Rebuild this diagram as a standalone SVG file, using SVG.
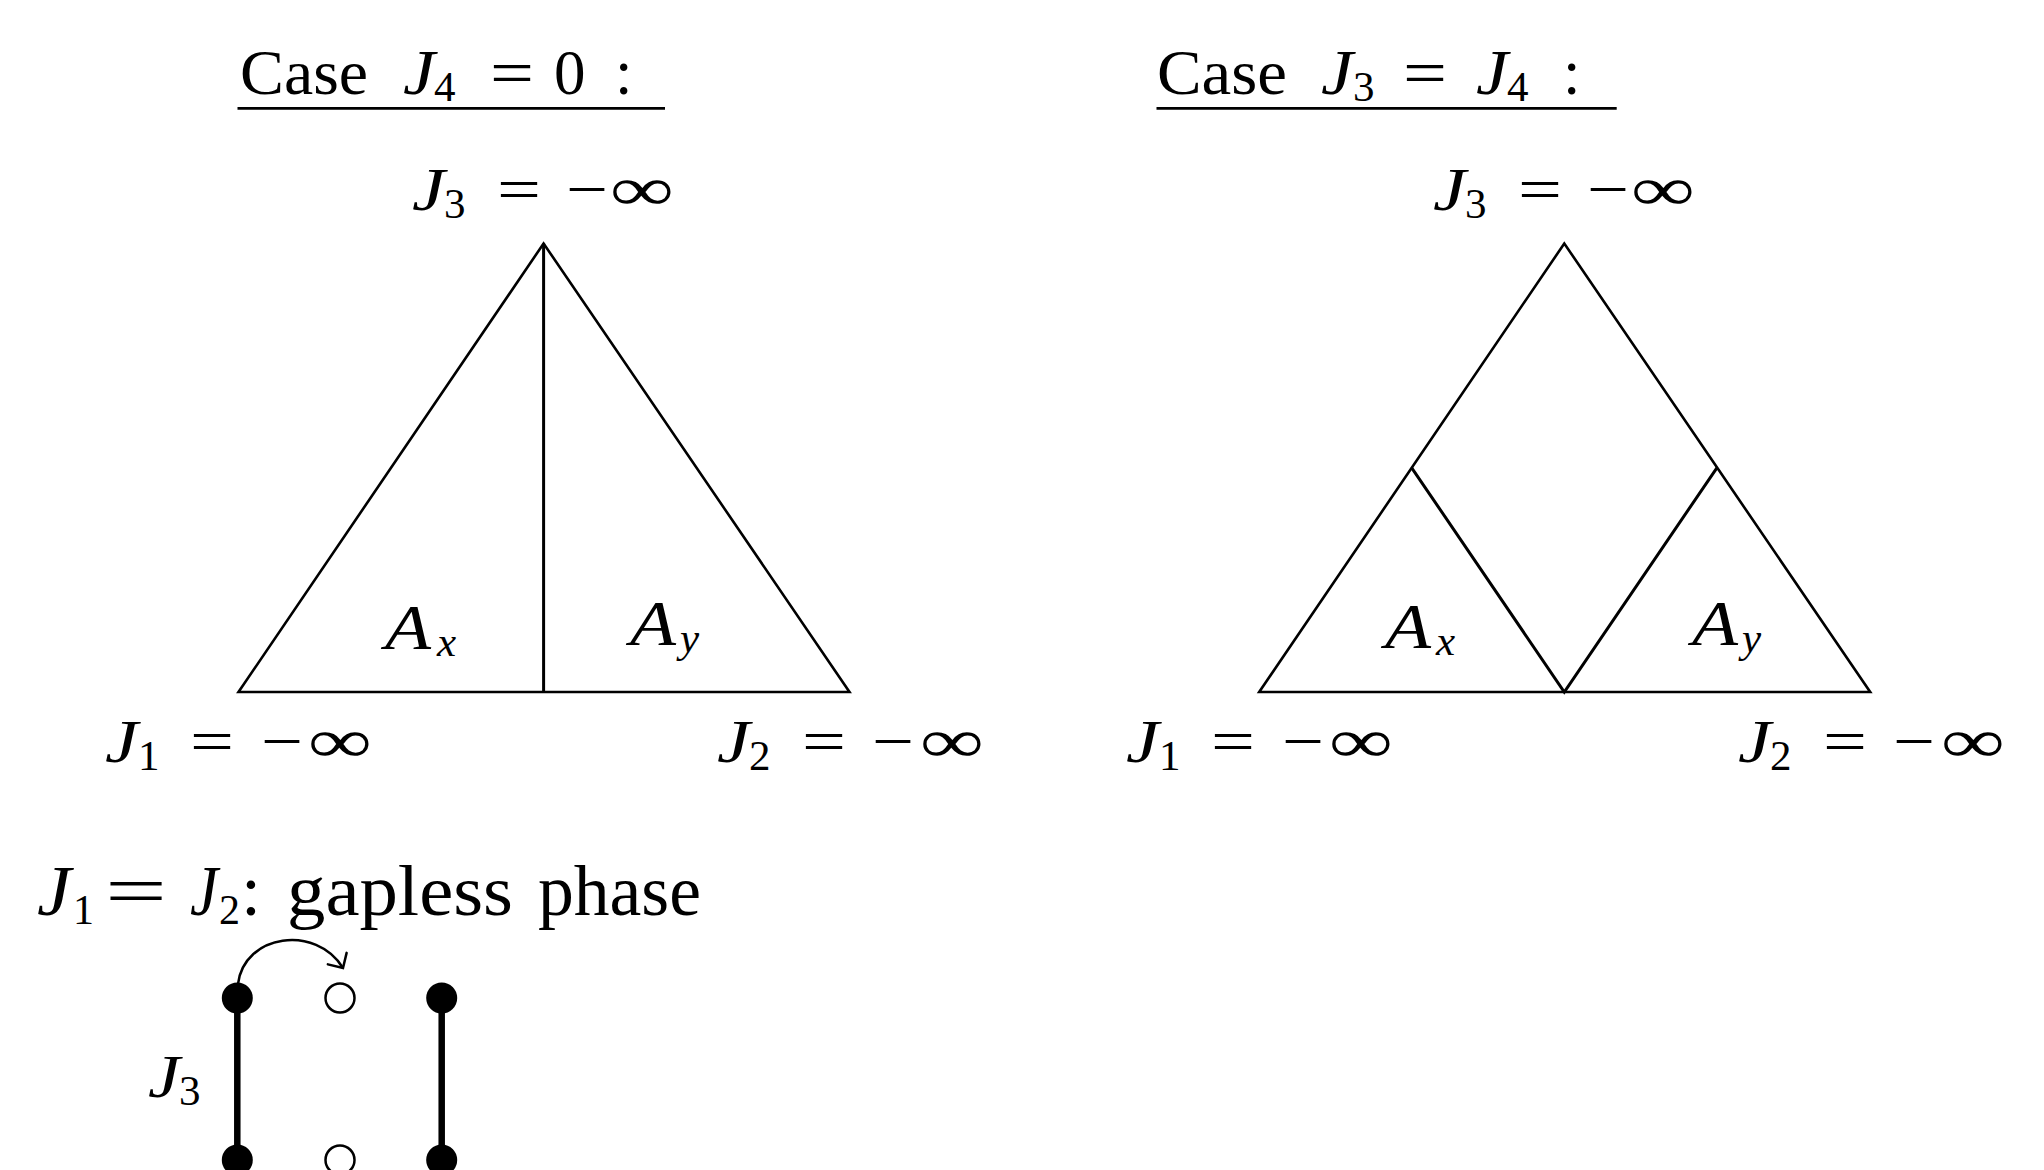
<svg xmlns="http://www.w3.org/2000/svg" width="2044" height="1170" viewBox="0 0 2044 1170">
<style>
text{font-family:"Liberation Serif","Times New Roman",serif;fill:#000}
.L{font-size:62px}
.A{font-size:64px}
.T{font-size:63px}
.G{font-size:72px}
.it{font-style:italic}
.s{font-size:43px}
.sg{font-size:42px}
.edge{fill:none;stroke:#000;stroke-width:2.6;stroke-linejoin:miter}
.ul{stroke:#000;stroke-width:2.8}
.bond{stroke:#000;stroke-width:6.5}
.full{fill:#000}
.hole{fill:#fff;stroke:#000;stroke-width:2.5}
</style>
<defs>
<marker id="to" markerUnits="userSpaceOnUse" viewBox="-14 -14 16 28" refX="0" refY="0" markerWidth="16" markerHeight="28" orient="auto" overflow="visible">
<path d="M -11,-11 Q -3,-3 0,0 Q -3,3 -11,11" fill="none" stroke="#000" stroke-width="2.5" stroke-linecap="round"/>
</marker>
</defs>
<rect width="2044" height="1170" fill="#fff"/>

<g id="title-left">
<text class="T" y="94"><tspan x="240" textLength="128" lengthAdjust="spacingAndGlyphs">Case</tspan><tspan x="403" class="it" textLength="32" lengthAdjust="spacingAndGlyphs">J</tspan><tspan x="434" y="101" class="s">4</tspan><tspan x="490" y="94" textLength="44" lengthAdjust="spacingAndGlyphs">=</tspan><tspan x="554">0</tspan><tspan x="615">:</tspan></text>
<line class="ul" x1="237.5" y1="108.3" x2="665" y2="108.3"/>
</g>
<g id="title-right">
<text class="T" y="94"><tspan x="1157" textLength="130" lengthAdjust="spacingAndGlyphs">Case</tspan><tspan x="1321" class="it" textLength="32" lengthAdjust="spacingAndGlyphs">J</tspan><tspan x="1353" y="101" class="s">3</tspan><tspan x="1403" y="94" textLength="44" lengthAdjust="spacingAndGlyphs">=</tspan><tspan x="1476" class="it" textLength="32" lengthAdjust="spacingAndGlyphs">J</tspan><tspan x="1507" y="101" class="s">4</tspan><tspan x="1563" y="94">:</tspan></text>
<line class="ul" x1="1156.5" y1="108.3" x2="1616.7" y2="108.3"/>
</g>

<g id="triangle-left">
<polygon class="edge" points="543.6,243.5 238.5,692 849.5,692"/>
<line class="edge" x1="543.6" y1="243.5" x2="543.6" y2="692" style="stroke-width:3"/>
<text class="A" y="649"><tspan x="385" class="it" textLength="46" lengthAdjust="spacingAndGlyphs">A</tspan><tspan x="437" y="656" class="s it">x</tspan></text>
<text class="A" y="645"><tspan x="630" class="it" textLength="46" lengthAdjust="spacingAndGlyphs">A</tspan><tspan x="680" y="652" class="s it">y</tspan></text>
</g>
<g id="labels-left">
<text class="L" y="210"><tspan x="412" class="it" textLength="33" lengthAdjust="spacingAndGlyphs">J</tspan><tspan x="444" y="218" class="s">3</tspan><tspan x="497" y="210" textLength="44" lengthAdjust="spacingAndGlyphs">=</tspan><tspan x="566" textLength="42" lengthAdjust="spacingAndGlyphs">−</tspan><tspan x="610" textLength="64" lengthAdjust="spacingAndGlyphs">∞</tspan></text>
<text class="L" y="762"><tspan x="105" class="it" textLength="33" lengthAdjust="spacingAndGlyphs">J</tspan><tspan x="138" y="770" class="s">1</tspan><tspan x="190" y="762" textLength="44" lengthAdjust="spacingAndGlyphs">=</tspan><tspan x="261" textLength="42" lengthAdjust="spacingAndGlyphs">−</tspan><tspan x="308" textLength="64" lengthAdjust="spacingAndGlyphs">∞</tspan></text>
<text class="L" y="762"><tspan x="717" class="it" textLength="33" lengthAdjust="spacingAndGlyphs">J</tspan><tspan x="749" y="770" class="s">2</tspan><tspan x="802" y="762" textLength="44" lengthAdjust="spacingAndGlyphs">=</tspan><tspan x="872" textLength="42" lengthAdjust="spacingAndGlyphs">−</tspan><tspan x="920" textLength="64" lengthAdjust="spacingAndGlyphs">∞</tspan></text>
</g>

<g id="triangle-right">
<polygon class="edge" points="1564.3,243.5 1259.2,692 1870.2,692"/>
<polyline class="edge" points="1411.7,467.8 1564.3,692 1716.9,467.8" style="stroke-width:3"/>
<text class="A" y="648"><tspan x="1385" class="it" textLength="46" lengthAdjust="spacingAndGlyphs">A</tspan><tspan x="1436" y="655" class="s it">x</tspan></text>
<text class="A" y="645"><tspan x="1692" class="it" textLength="46" lengthAdjust="spacingAndGlyphs">A</tspan><tspan x="1742" y="652" class="s it">y</tspan></text>
</g>
<g id="labels-right">
<text class="L" y="210"><tspan x="1433" class="it" textLength="33" lengthAdjust="spacingAndGlyphs">J</tspan><tspan x="1465" y="218" class="s">3</tspan><tspan x="1518" y="210" textLength="44" lengthAdjust="spacingAndGlyphs">=</tspan><tspan x="1587" textLength="42" lengthAdjust="spacingAndGlyphs">−</tspan><tspan x="1631" textLength="64" lengthAdjust="spacingAndGlyphs">∞</tspan></text>
<text class="L" y="762"><tspan x="1126" class="it" textLength="33" lengthAdjust="spacingAndGlyphs">J</tspan><tspan x="1159" y="770" class="s">1</tspan><tspan x="1211" y="762" textLength="44" lengthAdjust="spacingAndGlyphs">=</tspan><tspan x="1282" textLength="42" lengthAdjust="spacingAndGlyphs">−</tspan><tspan x="1329" textLength="64" lengthAdjust="spacingAndGlyphs">∞</tspan></text>
<text class="L" y="762"><tspan x="1738" class="it" textLength="33" lengthAdjust="spacingAndGlyphs">J</tspan><tspan x="1770" y="770" class="s">2</tspan><tspan x="1823" y="762" textLength="44" lengthAdjust="spacingAndGlyphs">=</tspan><tspan x="1893" textLength="42" lengthAdjust="spacingAndGlyphs">−</tspan><tspan x="1941" textLength="64" lengthAdjust="spacingAndGlyphs">∞</tspan></text>
</g>

<g id="gapless-heading">
<text class="G" y="915"><tspan x="37" class="it" textLength="34" lengthAdjust="spacingAndGlyphs">J</tspan><tspan x="73" y="924" class="sg">1</tspan><tspan x="105" y="915" textLength="62" lengthAdjust="spacingAndGlyphs">=</tspan><tspan x="190" class="it" textLength="28" lengthAdjust="spacingAndGlyphs">J</tspan><tspan x="219" y="924" class="sg">2</tspan><tspan x="241" y="915">:</tspan><tspan x="287" textLength="226" lengthAdjust="spacingAndGlyphs">gapless</tspan><tspan x="538" textLength="163" lengthAdjust="spacingAndGlyphs">phase</tspan></text>
</g>

<g id="chain">
<line class="bond" x1="237.3" y1="998" x2="237.3" y2="1160"/>
<line class="bond" x1="441.7" y1="998" x2="441.7" y2="1160"/>
<circle class="full" cx="237.3" cy="998" r="15.5"/>
<circle class="full" cx="441.7" cy="998" r="15.5"/>
<circle class="full" cx="237.3" cy="1160" r="15.5"/>
<circle class="full" cx="441.7" cy="1160" r="15.5"/>
<circle class="hole" cx="340" cy="998" r="14.5"/>
<circle class="hole" cx="340" cy="1160" r="14.5"/>
<text class="L" y="1097"><tspan x="148" class="it" textLength="32" lengthAdjust="spacingAndGlyphs">J</tspan><tspan x="179" y="1105" class="s">3</tspan></text>
</g>

<g id="connectors">
<path d="M 238,984 C 244,934 316,924 343,968" fill="none" stroke="#000" stroke-width="2.5" marker-end="url(#to)"/>
</g>
</svg>
